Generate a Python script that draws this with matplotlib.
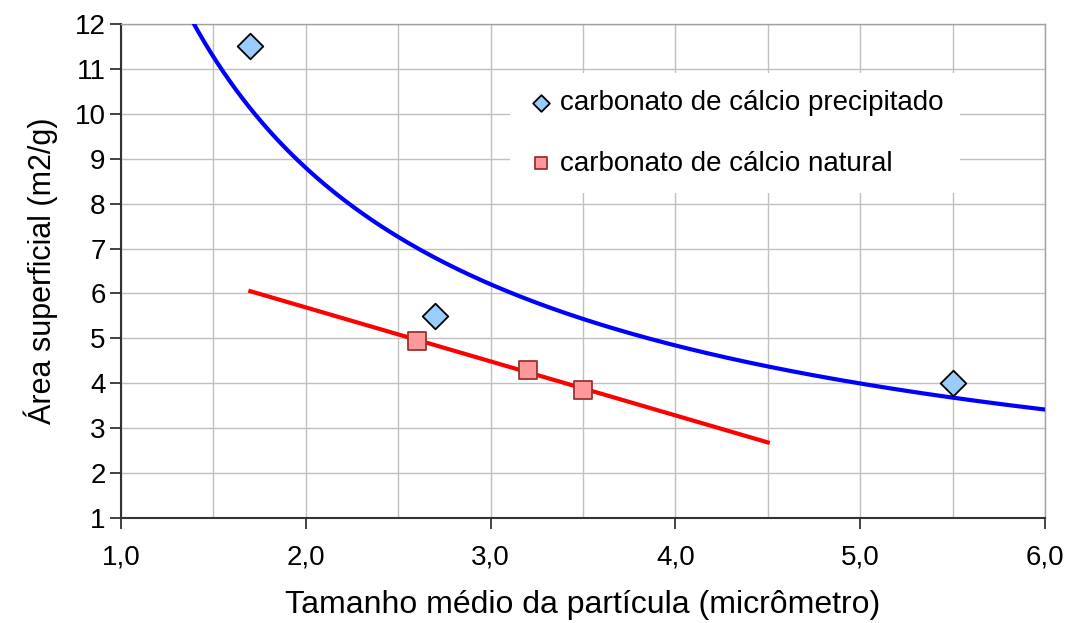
import numpy as np
import matplotlib.pyplot as plt
from matplotlib.ticker import MultipleLocator, FuncFormatter

plt.rcParams['font.family'] = ['Liberation Sans', 'DejaVu Sans']

# Data
precip_x = [1.7, 2.7, 5.5]
precip_y = [11.5, 5.5, 4.0]
natural_x = [2.6, 3.2, 3.5]
natural_y = [4.95, 4.3, 3.85]

# trendline extents
precip_trend_range = (1.0, 6.0)
natural_trend_range = (1.7, 4.5)

# Power trendline for the precipitated series (fit in log-log space)
b, log_a = np.polyfit(np.log(precip_x), np.log(precip_y), 1)
xp = np.linspace(*precip_trend_range, 300)
yp = np.exp(log_a) * xp ** b

# Linear trendline for the natural series
m, c = np.polyfit(natural_x, natural_y, 1)
xn = np.linspace(*natural_trend_range, 50)
yn = m * xn + c

fig = plt.figure(figsize=(10.72, 6.23), dpi=100)
ax = fig.add_axes([121 / 1072, 1 - 518 / 623, (1045 - 121) / 1072, (518 - 24) / 623])

ax.plot(xp, yp, color='#0000FF', lw=3, zorder=3)
ax.plot(xn, yn, color='#FF0000', lw=3, zorder=3)
ax.scatter(precip_x, precip_y, marker='D', s=170, facecolor='#99CCFF',
           edgecolor='black', linewidth=1.3, zorder=4,
           label='carbonato de cálcio precipitado')
ax.scatter(natural_x, natural_y, marker='s', s=170, facecolor='#FF9999',
           edgecolor='#993333', linewidth=1.3, zorder=4,
           label='carbonato de cálcio natural')

ax.set_xlim(1.0, 6.0)
ax.set_ylim(1, 12)
ax.xaxis.set_major_locator(MultipleLocator(1.0))
ax.xaxis.set_minor_locator(MultipleLocator(0.5))
ax.yaxis.set_major_locator(MultipleLocator(1))
ax.xaxis.set_major_formatter(FuncFormatter(lambda v, p: f'{v:.1f}'.replace('.', ',')))

ax.grid(True, which='both', axis='x', color='#C0C0C0', lw=1)
ax.grid(True, which='major', axis='y', color='#C0C0C0', lw=1)
ax.set_axisbelow(True)

for side in ['top', 'right']:
    ax.spines[side].set_color('#A0A0A0')
    ax.spines[side].set_linewidth(1)
for side in ['left', 'bottom']:
    ax.spines[side].set_color('#333333')
    ax.spines[side].set_linewidth(1.5)

ax.tick_params(axis='both', which='major', direction='out', length=8, width=1.3,
               labelsize=20, colors='#333333', labelcolor='black')
ax.tick_params(axis='x', which='minor', length=0)
ax.tick_params(axis='x', pad=11)
ax.tick_params(axis='y', pad=3)

ax.set_xlabel('Tamanho médio da partícula (micrômetro)', fontsize=23, labelpad=14)
ax.set_ylabel('Área superficial (m2/g)', fontsize=22, labelpad=12)

leg = ax.legend(loc='upper left', bbox_to_anchor=(0.421, 0.9), fontsize=20,
                frameon=True, fancybox=False, edgecolor='none', framealpha=1,
                handletextpad=0.2, labelspacing=1.25, borderpad=0.6,
                markerscale=0.65, handlelength=1.0, borderaxespad=0)

fig.savefig('out.png', dpi=100)
